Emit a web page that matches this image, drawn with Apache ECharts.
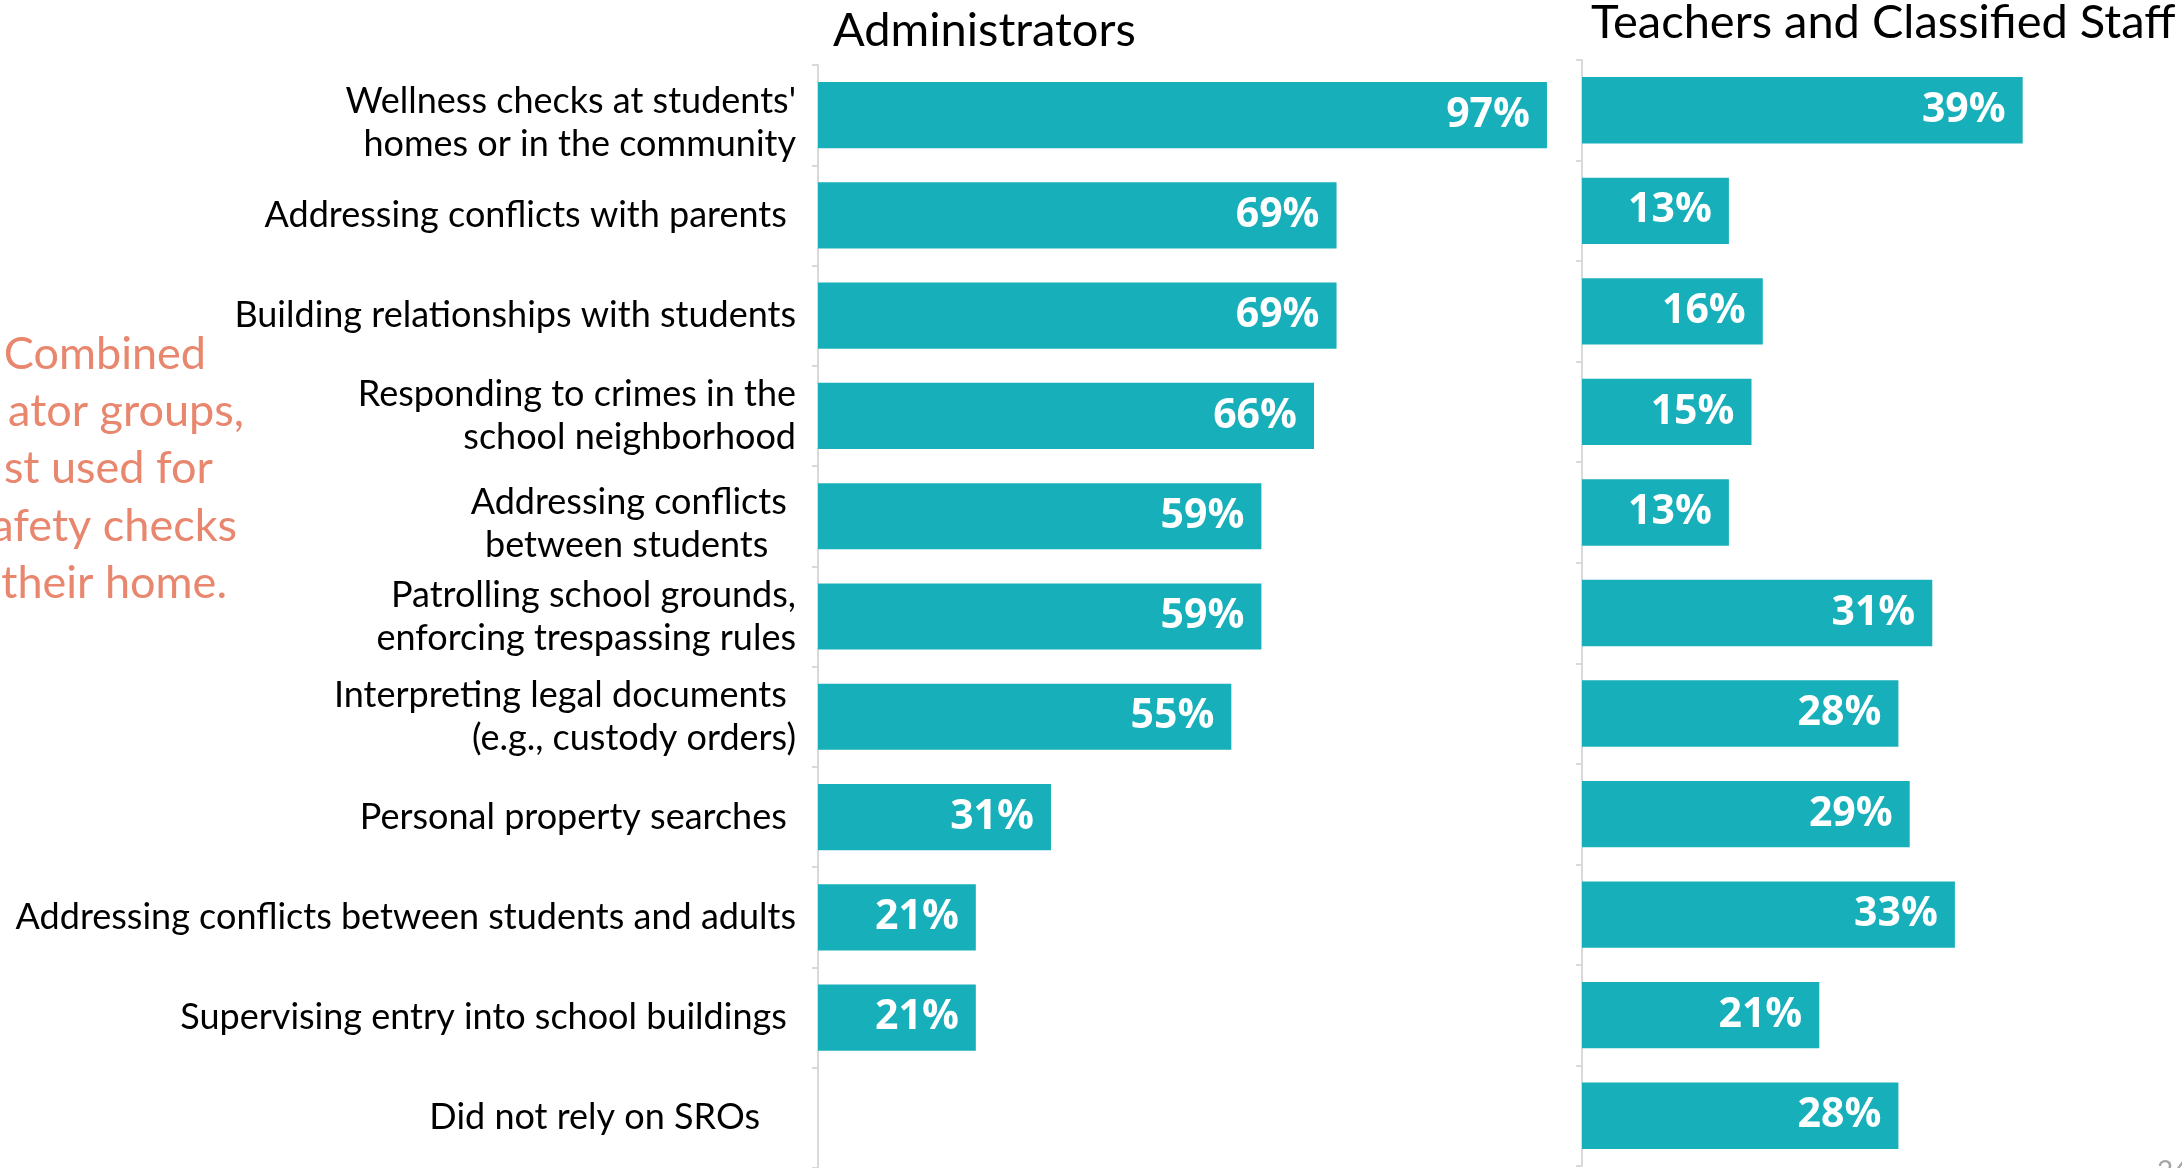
<!DOCTYPE html>
<html>
<head>
<meta charset="utf-8">
<script src="https://cdn.jsdelivr.net/npm/echarts@6/dist/echarts.min.js"></script>
<style>
  html, body { margin: 0; padding: 0; background: #fff; }
  #chart { width: 2182px; height: 1168px; }
</style>
</head>
<body>
<div id="chart"></div>
<script>
// Roles SROs were relied on for, by respondent group (percent)
const categories = [
  "Wellness checks at students'\nhomes or in the community",
  "Addressing conflicts with parents ",
  "Building relationships with students",
  "Responding to crimes in the\nschool neighborhood",
  "Addressing conflicts \nbetween students   ",
  "Patrolling school grounds,\nenforcing trespassing rules",
  "Interpreting legal documents \n(e.g., custody orders)",
  "Personal property searches ",
  "Addressing conflicts between students and adults",
  "Supervising entry into school buildings ",
  "Did not rely on SROs"
];
const administrators = [97, 69, 69, 66, 59, 59, 55, 31, 21, 21, '-'];
const teachersStaff  = [39, 13, 16, 15, 13, 31, 28, 29, 33, 21, 28];
const panelTitles = ['Administrators', 'Teachers and Classified Staff'];
const noteLines = ['Combined', 'ator groups,', 'st used for', 'afety checks', 'their home.'];
const pageNumber = '26';

const BAR = '#16AFBA';
const AXIS_GREY = '#D9D9D9';
const NOTE = '#E8866E';

const chart = echarts.init(document.getElementById('chart'), null, { renderer: 'canvas' });

const valueLabel = {
  show: true,
  position: 'insideRight',
  distance: 17,
  formatter: '{c}%',
  color: '#ffffff',
  fontFamily: 'Open Sans',
  fontWeight: 'bold',
  fontSize: 41
};

// two-line labels that sit a little lower than their bar
const loweredLabels = { 0: true, 4: true };
// extra right-hand gap for the last label
const labelPadding = { 10: [0, 36, 0, 0] };

function catAxis(gridIndex, showLabels) {
  return {
    type: 'category',
    gridIndex: gridIndex,
    data: categories.map(function (c, i) {
      return labelPadding[i] ? { value: c, textStyle: { padding: labelPadding[i] } } : c;
    }),
    inverse: true,
    axisLine: { show: true, lineStyle: { color: AXIS_GREY, width: 2 } },
    axisTick: { show: true, length: 6, lineStyle: { color: AXIS_GREY, width: 2 } },
    axisLabel: {
      show: showLabels,
      margin: 22,
      color: '#000000',
      fontFamily: 'Lato',
      fontSize: 36,
      lineHeight: 43,
      align: 'right',
      formatter: function (value, idx) {
        if (!loweredLabels[idx]) return value;
        // a short blank line on top pushes the block down
        return '{gap| }\n' + value.split('\n').map(function (line) {
          return '{nm|' + line + '}';
        }).join('\n');
      },
      rich: {
        gap: { fontSize: 8, lineHeight: 16 },
        nm: { fontFamily: 'Lato', fontSize: 36, lineHeight: 43, color: '#000' }
      }
    }
  };
}

chart.setOption({
  animation: false,
  backgroundColor: '#ffffff',
  title: [
    {
      text: panelTitles[0], left: 828, top: 2,
      textStyle: { fontFamily: 'Lato', fontWeight: 'normal', fontSize: 47, color: '#000' }
    },
    {
      text: panelTitles[1], left: 1586, top: -6,
      textStyle: { fontFamily: 'Lato', fontWeight: 'normal', fontSize: 47, color: '#000' }
    }
  ],
  grid: [
    { left: 818, top: 65, width: 751.5, height: 1106, containLabel: false },
    { left: 1582, top: 60, width: 565, height: 1106, containLabel: false }
  ],
  xAxis: [
    { type: 'value', gridIndex: 0, min: 0, max: 100, show: false },
    { type: 'value', gridIndex: 1, min: 0, max: 50, show: false }
  ],
  yAxis: [catAxis(0, true), catAxis(1, false)],
  series: [
    {
      type: 'bar', xAxisIndex: 0, yAxisIndex: 0,
      data: administrators, barWidth: '66%',
      itemStyle: { color: BAR }, label: valueLabel
    },
    {
      type: 'bar', xAxisIndex: 1, yAxisIndex: 1,
      data: teachersStaff, barWidth: '66%',
      itemStyle: { color: BAR }, label: valueLabel
    }
  ],
  graphic: noteLines.map(function (line, i) {
    const rightEdges = [206, 244, 213, 237, 227];
    return {
      type: 'text',
      x: rightEdges[i],
      y: 354 + i * 57.4,
      style: {
        text: line,
        align: 'right',
        verticalAlign: 'middle',
        fill: NOTE,
        fontFamily: 'Lato',
        fontSize: 45
      }
    };
  }).concat([{
    type: 'text',
    x: 2157,
    y: 1158,
    style: {
      text: pageNumber,
      align: 'left',
      verticalAlign: 'top',
      fill: '#A6A6A6',
      fontFamily: 'Lato',
      fontSize: 28
    }
  }])
});
</script>
</body>
</html>
